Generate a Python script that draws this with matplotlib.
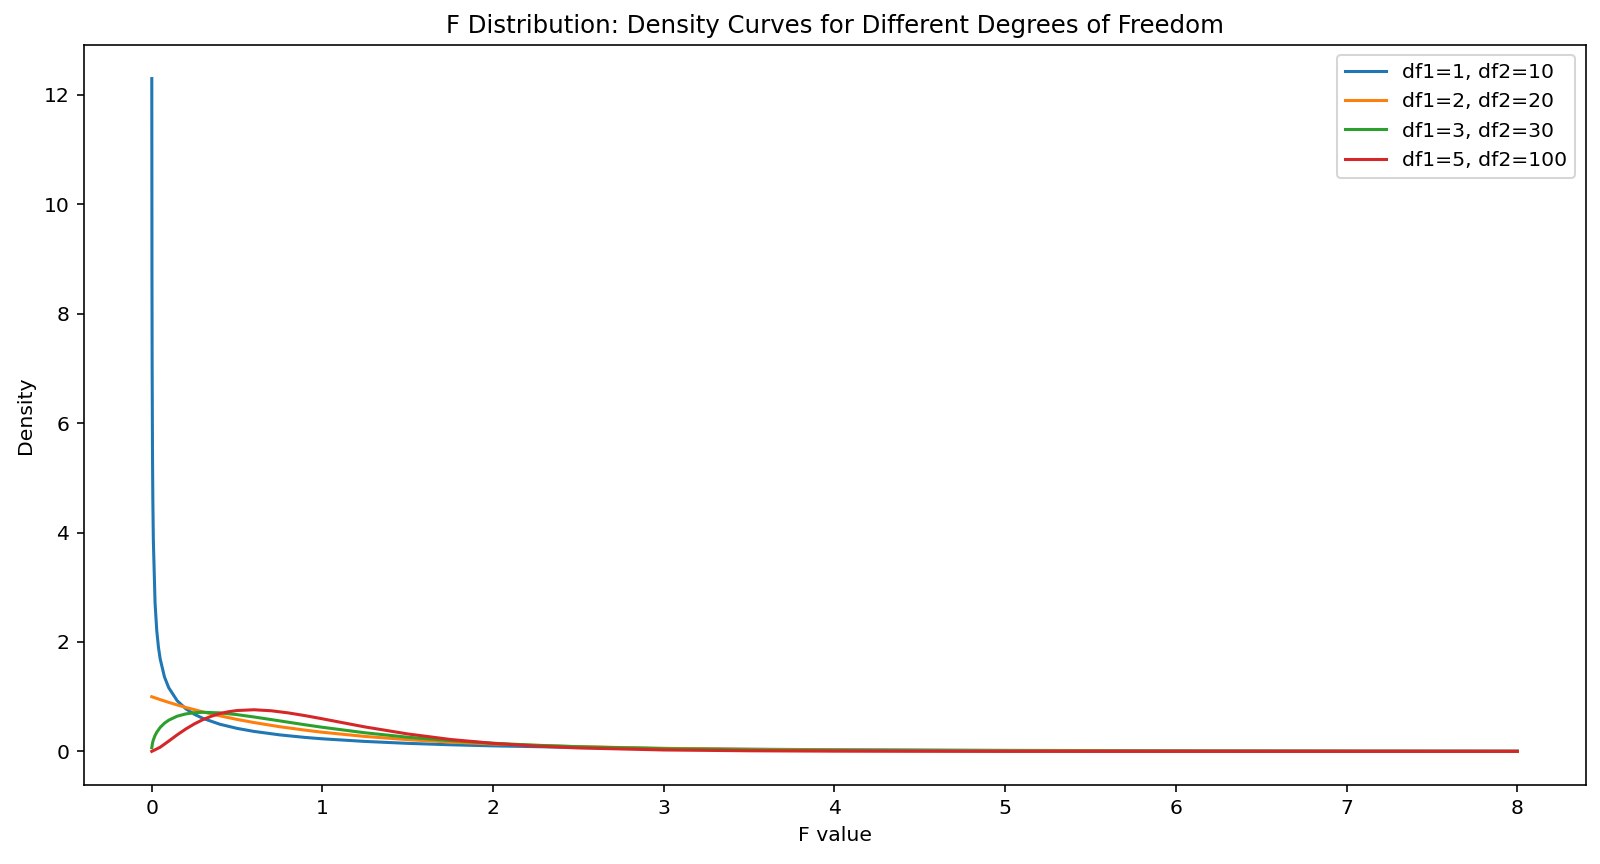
import matplotlib
matplotlib.use("Agg")
import matplotlib.pyplot as plt

# Values
x_blue = [0.001, 0.002, 0.003, 0.005, 0.007, 0.01, 0.02, 0.03, 0.04, 0.05, 0.075, 0.1, 0.15,
          0.2, 0.25, 0.3, 0.4, 0.5, 0.6, 0.75, 0.9, 1.0, 1.25, 1.5, 1.75, 2.0, 2.5, 3.0, 3.5,
          4.0, 5.0, 6.0, 7.0, 8.0]
y_blue = [12.30, 8.69, 7.09, 5.49, 4.63, 3.87, 2.72, 2.21, 1.903, 1.693, 1.363, 1.165, 0.925,
          0.780, 0.679, 0.604, 0.496, 0.421, 0.365, 0.302, 0.255, 0.230, 0.182, 0.147, 0.121,
          0.101, 0.072, 0.053, 0.040, 0.0305, 0.0186, 0.0120, 0.0079, 0.0054]

x_orange = [0.001, 0.05, 0.1, 0.15, 0.2, 0.3, 0.4, 0.5, 0.6, 0.75, 0.9, 1.0, 1.25, 1.5, 1.75,
            2.0, 2.5, 3.0, 3.5, 4.0, 5.0, 6.0, 7.0, 8.0]
y_orange = [0.999, 0.947, 0.896, 0.849, 0.804, 0.722, 0.650, 0.585, 0.527, 0.451, 0.388, 0.350,
            0.273, 0.215, 0.170, 0.135, 0.086, 0.056, 0.037, 0.025, 0.012, 0.0057, 0.0029, 0.0016]

x_green = [0.001, 0.005, 0.01, 0.02, 0.03, 0.05, 0.075, 0.1, 0.15, 0.2, 0.25, 0.3, 0.4, 0.5,
           0.6, 0.75, 0.9, 1.0, 1.25, 1.5, 1.75, 2.0, 2.25, 2.5, 3.0, 3.5, 4.0, 5.0, 6.0, 7.0, 8.0]
y_green = [0.067, 0.149, 0.209, 0.291, 0.350, 0.438, 0.515, 0.570, 0.644, 0.685, 0.707, 0.715,
           0.704, 0.672, 0.629, 0.558, 0.486, 0.441, 0.340, 0.259, 0.197, 0.149, 0.112, 0.085,
           0.048, 0.028, 0.0165, 0.0059, 0.0022, 0.0008, 0.0003]

x_red = [0.001, 0.05, 0.1, 0.15, 0.2, 0.25, 0.3, 0.35, 0.4, 0.45, 0.5, 0.6, 0.7, 0.8, 0.9,
         1.0, 1.1, 1.25, 1.5, 1.75, 2.0, 2.25, 2.5, 3.0, 3.5, 4.0, 5.0, 6.0, 7.0, 8.0]
y_red = [0.0002, 0.076, 0.188, 0.303, 0.409, 0.502, 0.580, 0.643, 0.691, 0.725, 0.747, 0.761,
         0.743, 0.704, 0.653, 0.596, 0.536, 0.447, 0.319, 0.218, 0.147, 0.097, 0.063, 0.026,
         0.011, 0.0043, 0.0006, 0.0001, 0.0, 0.0]

labels = ["df1=1, df2=10", "df1=2, df2=20", "df1=3, df2=30", "df1=5, df2=100"]

DPI = 146.5
fig, ax = plt.subplots(figsize=(1600 / DPI, 864 / DPI), dpi=DPI)
for xs, ys, lab in zip([x_blue, x_orange, x_green, x_red],
                       [y_blue, y_orange, y_green, y_red], labels):
    ax.plot(xs, ys, label=lab)

ax.set_title("F Distribution: Density Curves for Different Degrees of Freedom")
ax.set_xlabel("F value")
ax.set_ylabel("Density")
ax.legend(loc="upper right")
fig.subplots_adjust(left=0.0522, right=0.991, bottom=0.0914, top=0.948)
fig.savefig("out.png", dpi=DPI)
